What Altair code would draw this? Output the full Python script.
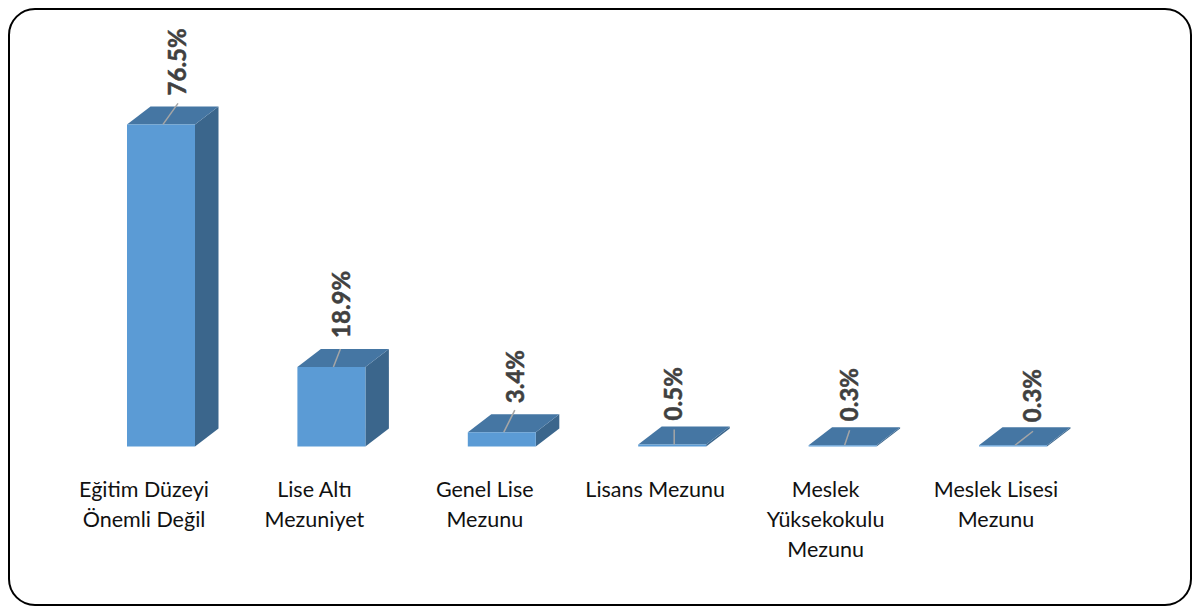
import altair as alt
import pandas as pd

categories = [
    ["Eğitim Düzeyi", "Önemli Değil"],
    ["Lise Altı", "Mezuniyet"],
    ["Genel Lise", "Mezunu"],
    ["Lisans Mezunu"],
    ["Meslek", "Yüksekokulu", "Mezunu"],
    ["Meslek Lisesi", "Mezunu"],
]
values = [76.5, 18.9, 3.4, 0.5, 0.3, 0.3]
value_labels = ["76.5%", "18.9%", "3.4%", "0.5%", "0.3%", "0.3%"]
# leader line end and label anchor, relative to the bar's front top edge (px)
leader_dx = [15, 7, 11, 0, 5, 18]
leader_dy = [21, 18, 22, 15, 15, 14]
label_dx = [18, 12, 15, 3, 8, 21]
label_dy = [29, 29, 29, 24, 24, 23]

W, H = 1184, 598
BASE = 438.5           # baseline inside the plot, px
PX_X = 170.4           # px per category
PX_Y = 4.21            # px per percent
X_DOM = [-153 / PX_X, (W - 153) / PX_X]
Y_DOM = [-(H - BASE) / PX_Y, BASE / PX_Y]
HALF = 34 / PX_X
DX = 23.5 / PX_X
DY = 18 / PX_Y

xs = alt.Scale(domain=X_DOM, nice=False, zero=False)
ys = alt.Scale(domain=Y_DOM, nice=False, zero=False)
X = lambda f: alt.X(f, type="quantitative", scale=xs, axis=None)
Y = lambda f: alt.Y(f, type="quantitative", scale=ys, axis=None)

front = pd.DataFrame([
    {"x0": i - HALF, "x1": i + HALF, "y0": 0, "y1": v} for i, v in enumerate(values)
])
top, side, leaders, texts, cats = [], [], [], [], []
for i, v in enumerate(values):
    top.append({"b": i, "y": v, "a": i - HALF, "c": i + HALF})
    top.append({"b": i, "y": v + DY, "a": i - HALF + DX, "c": i + HALF + DX})
    side.append({"b": i, "x": i + HALF, "t": v, "u": 0})
    side.append({"b": i, "x": i + HALF + DX, "t": v + DY, "u": DY})
    leaders.append({"x0": i + 2 / PX_X, "y0": v,
                    "x1": i + (2 + leader_dx[i]) / PX_X, "y1": v + leader_dy[i] / PX_Y})
    texts.append({"x": i + label_dx[i] / PX_X, "y": v + label_dy[i] / PX_Y, "t": value_labels[i]})
    cats.append({"x": i, "t": categories[i]})

frame = alt.Chart(pd.DataFrame({"k": [0]})).mark_rect(
    fill="white", stroke="#000000", strokeWidth=2, cornerRadius=26
).encode(x=alt.value(1), x2=alt.value(1183), y=alt.value(1), y2=alt.value(597))

front_l = alt.Chart(front).mark_rect(color="#5B9BD5").encode(
    x=X("x0"), x2="x1", y=Y("y0"), y2="y1")
top_l = alt.Chart(pd.DataFrame(top)).mark_area(color="#4576A3", orient="horizontal", line=False).encode(
    y=Y("y"), x=X("a"), x2="c", detail="b:N")
side_l = alt.Chart(pd.DataFrame(side)).mark_area(color="#3B668C", orient="vertical").encode(
    x=X("x"), y=Y("t"), y2="u", detail="b:N")
lead_l = alt.Chart(pd.DataFrame(leaders)).mark_rule(color="#A6A6A6", strokeWidth=1.5).encode(
    x=X("x0"), x2="x1", y=Y("y0"), y2="y1")
text_l = alt.Chart(pd.DataFrame(texts)).mark_text(
    angle=270, align="left", baseline="middle", font="Lato", fontSize=24,
    fontWeight="bold", color="#404040", stroke="#404040", strokeWidth=0.5
).encode(x=X("x"), y=Y("y"), text="t:N")
cat_l = alt.Chart(pd.DataFrame(cats)).mark_text(
    align="center", baseline="middle", font="Lato", fontSize=21.5, color="#111111",
    lineHeight=30, dx=-17
).encode(x=X("x"), y=alt.value(483), text="t")

chart = alt.layer(frame, side_l, top_l, front_l, lead_l, text_l, cat_l).properties(
    width=W, height=H, padding=0, autosize=alt.AutoSizeParams(type="none"), background="white"
).configure_view(stroke=None)

chart.save("out.html", embed_options={"renderer": "svg", "actions": False})
